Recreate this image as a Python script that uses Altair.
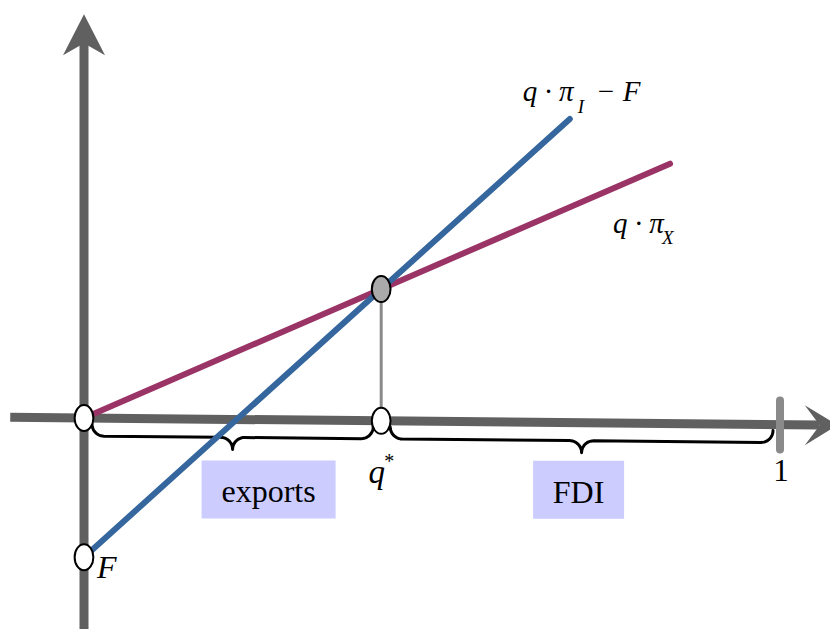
import altair as alt
import numpy as np
import pandas as pd

# ---- values (q on the x axis, payoff on the y axis) ----
F = 0.20            # fixed cost of FDI (intercept of the blue line is -F)
PI_X = 0.434        # slope of q*pi_X (exports)
PI_I = 0.902        # slope of q*pi_I - F (FDI)
Q_STAR = 0.427      # cut-off q*
Q_ONE = 1.0
BLUE_END_Q = 0.698
PURPLE_END_Q = 0.842
X_AXIS_Q = [-0.106, 1.057, 1.083]   # start, end of shaft, arrow tip
Y_AXIS_V = [-0.33, 0.539, 0.580]    # bottom, end of shaft, arrow tip
AXIS_TILT = -0.0095                 # the drawn q axis sinks slightly to the right

W, H = 822, 621
PX = 696.0                           # pixels per unit (same on both axes)
X_DOMAIN = [-76 / PX, (W - 76) / PX]
Y_DOMAIN = [(410 - H) / PX, 410 / PX]

SERIF = "Liberation Serif"
AXIS_GRAY = "#606060"
LIGHT_GRAY = "#8a8a8a"
BLUE = "#35679e"
PURPLE = "#9b3466"
BOX = "#ccccff"


def axis_v(q):
    return AXIS_TILT * q


xs = alt.Scale(domain=X_DOMAIN, nice=False, zero=False)
ys = alt.Scale(domain=Y_DOMAIN, nice=False, zero=False)


def X(f="q"):
    return alt.X(f"{f}:Q", scale=xs, axis=None)


def Y(f="v"):
    return alt.Y(f"{f}:Q", scale=ys, axis=None)


def seg(q, v, q2, v2, color, width, cap="butt"):
    d = pd.DataFrame({"q": [q], "v": [v], "q2": [q2], "v2": [v2]})
    return alt.Chart(d).mark_rule(color=color, strokeWidth=width, strokeCap=cap).encode(
        x=X("q"), y=Y("v"), x2="q2:Q", y2="v2:Q"
    )


def pt(q, v):
    return pd.DataFrame({"q": [q], "v": [v]})


def brace_df(qa, qb, bid, s=6.0, r1=12.0, r2=12.0, n=14):
    L = (qb - qa) * PX
    t = np.linspace(0, np.pi / 2, n)
    u1 = r1 - r1 * np.cos(t)
    w1 = s + r1 * np.sin(t)
    u2 = L / 2 - r2 + r2 * np.sin(t)
    w2 = s + r1 + r2 - r2 * np.cos(t)
    uL = np.concatenate([u1, u2])
    wL = np.concatenate([w1, w2])
    u = np.concatenate([uL, L - uL[::-1]])
    w = np.concatenate([wL, wL[::-1]])
    q = qa + u / PX
    v = axis_v(q) - w / PX
    return pd.DataFrame({"q": q, "v": v, "i": np.arange(len(q)), "b": bid})


ELLIPSE = ("M0.72,0 C0.72,0.5523 0.3977,1 0,1 C-0.3977,1 -0.72,0.5523 -0.72,0 "
           "C-0.72,-0.5523 -0.3977,-1 0,-1 C0.3977,-1 0.72,-0.5523 0.72,0 Z")
HEAD_UP = "M0,0 L1,1.95 L0,1.38 L-1,1.95 Z"
HEAD_RIGHT = "M0,0 L1,1.65 L0,0.9 L-1,1.65 Z"

layers = []

# axes
layers.append(seg(0, Y_AXIS_V[0], 0, Y_AXIS_V[1], AXIS_GRAY, 9))
layers.append(seg(X_AXIS_Q[0], axis_v(X_AXIS_Q[0]), X_AXIS_Q[1], axis_v(X_AXIS_Q[1]), AXIS_GRAY, 9))
layers.append(alt.Chart(pt(0, Y_AXIS_V[2])).mark_point(
    shape=HEAD_UP, size=1764, filled=True, color=AXIS_GRAY, opacity=1, strokeWidth=0
).encode(x=X(), y=Y()))
layers.append(alt.Chart(pt(X_AXIS_Q[2], axis_v(X_AXIS_Q[2]))).mark_point(
    shape=HEAD_RIGHT, size=1600, filled=True, color=AXIS_GRAY, opacity=1, strokeWidth=0, angle=90
).encode(x=X(), y=Y()))

# tick at 1
layers.append(seg(Q_ONE, axis_v(Q_ONE) + 24 / PX, Q_ONE, axis_v(Q_ONE) - 25 / PX, LIGHT_GRAY, 8, "round"))

# braces
b1 = brace_df(8 / PX, Q_STAR - 8 / PX, "exports")
b2 = brace_df(Q_STAR + 9 / PX, Q_ONE - 7 / PX, "FDI")
braces = pd.concat([b1, b2], ignore_index=True)
layers.append(alt.Chart(braces).mark_line(color="black", strokeWidth=3, strokeJoin="round", strokeCap="round").encode(
    x=X(), y=Y(), order="i:Q", detail="b:N"))

# drop line from intersection to q*
layers.append(seg(Q_STAR, PI_X * Q_STAR, Q_STAR, axis_v(Q_STAR), LIGHT_GRAY, 3))

# profit lines
layers.append(seg(0, 0, PURPLE_END_Q, PI_X * PURPLE_END_Q, PURPLE, 6, "round"))
layers.append(seg(0, -F, BLUE_END_Q, PI_I * BLUE_END_Q - F, BLUE, 6, "round"))

# marker ellipses
white_pts = pd.DataFrame({"q": [0, 0, Q_STAR], "v": [0, -F, axis_v(Q_STAR)]})
layers.append(alt.Chart(white_pts).mark_point(
    shape=ELLIPSE, size=676, filled=True, color="white", stroke="black", strokeWidth=2, opacity=1
).encode(x=X(), y=Y()))
layers.append(alt.Chart(pt(Q_STAR, PI_X * Q_STAR)).mark_point(
    shape=ELLIPSE, size=676, filled=True, color="#aaaaaa", stroke="black", strokeWidth=2, opacity=1
).encode(x=X(), y=Y()))


def label(df, text, size, dx, dy, italic=True, align="left"):
    kw = dict(text=text, font=SERIF, fontSize=size, align=align, baseline="alphabetic",
              dx=dx, dy=dy, color="black")
    if italic:
        kw["fontStyle"] = "italic"
    return alt.Chart(df).mark_text(**kw).encode(x=X(), y=Y())


# line labels
blue_end = pt(BLUE_END_Q, PI_I * BLUE_END_Q - F)
layers.append(label(blue_end, "q · π", 29, -47, -18))
layers.append(label(blue_end, "I", 19, 8, -6))
layers.append(label(blue_end, "− F", 29, 26, -18))

purple_end = pt(PURPLE_END_Q, PI_X * PURPLE_END_Q)
layers.append(label(purple_end, "q · π", 29, -57, 69))
layers.append(label(purple_end, "X", 19, -8, 80))

# axis labels
qs = pt(Q_STAR, axis_v(Q_STAR))
layers.append(label(qs, "q", 33, -4.5, 62, align="center"))
layers.append(label(qs, "*", 20, 8, 47, italic=False, align="center"))
layers.append(label(pt(0, -F), "F", 32, 13, 21))
layers.append(label(pt(Q_ONE, axis_v(Q_ONE)), "1", 31, 1, 56, italic=False, align="center"))


# boxed labels under the braces
def boxed(tip_q, text, off_x, off_y, bw, bh):
    cq = tip_q + off_x / PX
    tip_v = axis_v(tip_q) - 30 / PX
    cv = tip_v - off_y / PX
    d = pd.DataFrame({"q": [cq - bw / 2 / PX], "q2": [cq + bw / 2 / PX],
                      "v": [cv + bh / 2 / PX], "v2": [cv - bh / 2 / PX]})
    r = alt.Chart(d).mark_rect(color=BOX, opacity=1).encode(x=X("q"), x2="q2:Q", y=Y("v"), y2="v2:Q")
    t = label(pt(cq, cv), text, 32, 0, 13, italic=False, align="center")
    return [r, t]


layers += boxed((b1["q"].iloc[0] + b1["q"].iloc[-1]) / 2, "exports", 36, 40, 134, 58)
layers += boxed((b2["q"].iloc[0] + b2["q"].iloc[-1]) / 2, "FDI", -3, 37, 91, 58)

chart = alt.layer(*layers).properties(
    width=W, height=H, padding=0, autosize=alt.AutoSizeParams(type="none")
).configure_view(strokeWidth=0)
chart.save("out.html", embed_options={"renderer": "svg", "actions": False})
